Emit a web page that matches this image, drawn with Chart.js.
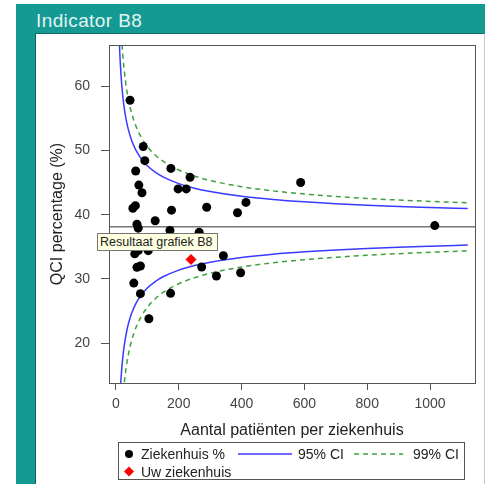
<!DOCTYPE html>
<html>
<head>
<meta charset="utf-8">
<script src="https://cdn.jsdelivr.net/npm/chart.js@4"></script>
<style>
  html, body { margin: 0; padding: 0; background: #ffffff; }
  body { width: 485px; height: 484px; position: relative; overflow: hidden; font-family: "Liberation Sans", Arial, sans-serif; }
  #teal { position: absolute; left: 16px; top: 4px; width: 469px; height: 480px; background: #149a92; }
  #title { position: absolute; left: 36px; top: 11px; font-size: 19px; line-height: 20px; color: #e4f4f2; letter-spacing: 0.4px; white-space: nowrap; }
  #panel { position: absolute; left: 35px; top: 33px; width: 448px; height: 451px; background: #ffffff; border-left: 1px solid #0f5f5a; border-top: 1px solid #0f6a64; border-right: 1px solid #c8c8c8; }
  #c { position: absolute; left: 0; top: 0; }
  #legend { position: absolute; left: 118px; top: 442px; width: 345px; height: 36px; border: 1px solid #555; font-size: 14px; color: #222; }
  .lg { position: absolute; white-space: nowrap; line-height: 16px; }
  #tip { position: absolute; left: 97px; top: 233px; width: 117px; height: 16px; background: #ffffe1; border: 1px solid #767676; font-size: 12.5px; line-height: 16px; color: #222; padding-left: 2px; white-space: nowrap; }
</style>
</head>
<body>
<div id="teal"></div>
<div id="title">Indicator B8</div>
<div id="panel"></div>
<canvas id="c" width="485" height="484"></canvas>
<div id="legend">
  <svg style="position:absolute;left:0;top:0" width="345" height="36">
    <circle cx="10" cy="11" r="4" fill="#000"></circle>
    <line x1="119" y1="11" x2="173" y2="11" stroke="#3a3aff" stroke-width="1.5"></line>
    <line x1="235" y1="11" x2="284" y2="11" stroke="#40a040" stroke-width="1.5" stroke-dasharray="5,4"></line>
    <polygon points="10,23.5 15,28.5 10,33.5 5,28.5" fill="#ff0000"></polygon>
  </svg>
  <div class="lg" style="left:22px;top:3px">Ziekenhuis %</div>
  <div class="lg" style="left:179px;top:3px">95% CI</div>
  <div class="lg" style="left:294px;top:3px">99% CI</div>
  <div class="lg" style="left:22px;top:21px">Uw ziekenhuis</div>
</div>
<div id="tip">Resultaat grafiek B8</div>
<script>
// ---- data ----
const xTicks = [0, 200, 400, 600, 800, 1000];
const yTicks = [20, 30, 40, 50, 60];
const xTitle = "Aantal patiënten per ziekenhuis";
const yTitle = "QCI percentage (%)";

// hospitals: number of patients and percentage
const hospN   = [45, 87, 92, 63, 175, 236, 73, 83, 198, 224, 588, 414, 387, 289, 62, 54, 177, 125, 67, 71, 172, 265, 1015, 60, 71, 103, 342, 273, 67, 78, 320, 397, 57, 78, 174, 105];
const hospPct = [57.8, 50.6, 48.4, 46.8, 47.2, 45.8, 44.6, 43.4, 44.0, 44.0, 45.0, 41.9, 40.3, 41.15, 41.4, 41.0, 40.7, 39.05, 38.5, 37.9, 37.55, 37.25, 38.3, 33.9, 34.4, 34.4, 33.6, 31.85, 31.8, 32.0, 30.45, 30.95, 29.35, 27.7, 27.75, 23.8];

// own hospital
const ownN = [239];
const ownPct = [33.0];

// overall mean
const meanX = [-22, 1143];
const meanPct = [38.1, 38.1];

// control limits
const limN    = [10, 11, 12, 13, 14, 16, 18, 20, 22, 25, 27, 30, 35, 40, 50, 60, 70, 80, 100, 125, 150, 200, 250, 300, 400, 500, 600, 700, 800, 900, 1000, 1120];
const up95    = [68.20, 66.80, 65.58, 64.50, 63.54, 61.90, 60.53, 59.38, 58.39, 57.14, 56.42, 55.48, 54.19, 53.15, 51.56, 50.39, 49.48, 48.74, 47.62, 46.61, 45.87, 44.83, 44.12, 43.60, 42.86, 42.36, 41.99, 41.70, 41.47, 41.27, 41.11, 40.94];
const lo95    = [8.00, 9.40, 10.62, 11.70, 12.66, 14.30, 15.67, 16.82, 17.81, 19.06, 19.78, 20.72, 22.01, 23.05, 24.64, 25.81, 26.72, 27.46, 28.58, 29.59, 30.33, 31.37, 32.08, 32.60, 33.34, 33.84, 34.21, 34.50, 34.73, 34.93, 35.09, 35.26];
const up99    = [77.66, 75.82, 74.21, 72.80, 71.53, 69.38, 67.58, 66.07, 64.77, 63.12, 62.18, 60.94, 59.25, 57.88, 55.79, 54.25, 53.05, 52.09, 50.61, 49.29, 48.31, 46.95, 46.01, 45.32, 44.35, 43.70, 43.21, 42.83, 42.52, 42.27, 42.06, 41.84];
const lo99    = [-1.46, 0.38, 1.99, 3.40, 4.67, 6.82, 8.62, 10.13, 11.43, 13.08, 14.02, 15.26, 16.95, 18.32, 20.41, 21.95, 23.15, 24.11, 25.59, 26.91, 27.89, 29.25, 30.19, 30.88, 31.85, 32.50, 32.99, 33.37, 33.68, 33.93, 34.14, 34.36];

const pts = (xs, ys) => xs.map((x, i) => ({ x: x, y: ys[i] }));

const BLUE = '#3a3aff';
const GREEN = '#40a040';
const AXIS = '#555555';

const framePlugin = {
  id: 'frame',
  afterDraw(chart) {
    const ctx = chart.ctx, a = chart.chartArea;
    ctx.save();
    ctx.strokeStyle = AXIS;
    ctx.lineWidth = 1;
    ctx.strokeRect(Math.round(a.left) + 0.5, Math.round(a.top) + 0.5, Math.round(a.right - a.left), Math.round(a.bottom - a.top));
    ctx.fillStyle = '#222';
    ctx.font = '16px "Liberation Sans", Arial, sans-serif';
    ctx.textAlign = 'center';
    ctx.textBaseline = 'alphabetic';
    ctx.fillText(xTitle, (a.left + a.right) / 2, 435);
    ctx.translate(62, (a.top + a.bottom) / 2);
    ctx.rotate(-Math.PI / 2);
    ctx.fillText(yTitle, 0, 0);
    ctx.restore();
  }
};

new Chart(document.getElementById('c'), {
  type: 'scatter',
  data: {
    datasets: [
      { label: 'mean', data: pts(meanX, meanPct), showLine: true, borderColor: '#333', borderWidth: 1, pointRadius: 0, order: 5 },
      { label: '95% CI', data: pts(limN, up95), showLine: true, borderColor: BLUE, borderWidth: 1.5, pointRadius: 0, cubicInterpolationMode: 'monotone', order: 4 },
      { label: '95% CI lo', data: pts(limN, lo95), showLine: true, borderColor: BLUE, borderWidth: 1.5, pointRadius: 0, cubicInterpolationMode: 'monotone', order: 4 },
      { label: '99% CI', data: pts(limN, up99), showLine: true, borderColor: GREEN, borderWidth: 1.5, borderDash: [5, 4], pointRadius: 0, cubicInterpolationMode: 'monotone', order: 3 },
      { label: '99% CI lo', data: pts(limN, lo99), showLine: true, borderColor: GREEN, borderWidth: 1.5, borderDash: [5, 4], pointRadius: 0, cubicInterpolationMode: 'monotone', order: 3 },
      { label: 'Ziekenhuis %', data: pts(hospN, hospPct), showLine: false, pointRadius: 4.5, pointBackgroundColor: '#000', pointBorderColor: '#000', pointBorderWidth: 0, order: 2 },
      { label: 'Uw ziekenhuis', data: pts(ownN, ownPct), showLine: false, pointStyle: 'rectRot', pointRadius: 5.5, pointBackgroundColor: '#ff0000', pointBorderColor: '#ff0000', pointBorderWidth: 0, order: 1 }
    ]
  },
  options: {
    responsive: false,
    animation: false,
    devicePixelRatio: 1,
    layout: { padding: { left: 0, top: 45, right: 10, bottom: 0 } },
    plugins: { legend: { display: false }, tooltip: { enabled: false } },
    scales: {
      x: {
        type: 'linear', min: -22, max: 1143,
        afterBuildTicks: s => { s.ticks = xTicks.map(v => ({ value: v })); },
        afterFit: s => { s.height = 101; },
        grid: { drawOnChartArea: false, drawTicks: true, tickLength: 7, color: AXIS },
        border: { display: true, color: AXIS, width: 1 },
        ticks: { color: '#444', font: { size: 14, family: '"Liberation Sans", Arial, sans-serif' }, padding: 6, maxRotation: 0, callback: v => String(v) },
        title: { display: false }
      },
      y: {
        type: 'linear', min: 13.8, max: 66.4,
        afterBuildTicks: s => { s.ticks = yTicks.map(v => ({ value: v })); },
        afterFit: s => { s.width = 109; },
        grid: { drawOnChartArea: false, drawTicks: true, tickLength: 8, color: AXIS },
        border: { display: true, color: AXIS, width: 1 },
        ticks: { color: '#444', font: { size: 14, family: '"Liberation Sans", Arial, sans-serif' }, padding: 11, callback: v => String(v) },
        title: { display: false }
      }
    }
  },
  plugins: [framePlugin]
});
</script>
</body>
</html>
